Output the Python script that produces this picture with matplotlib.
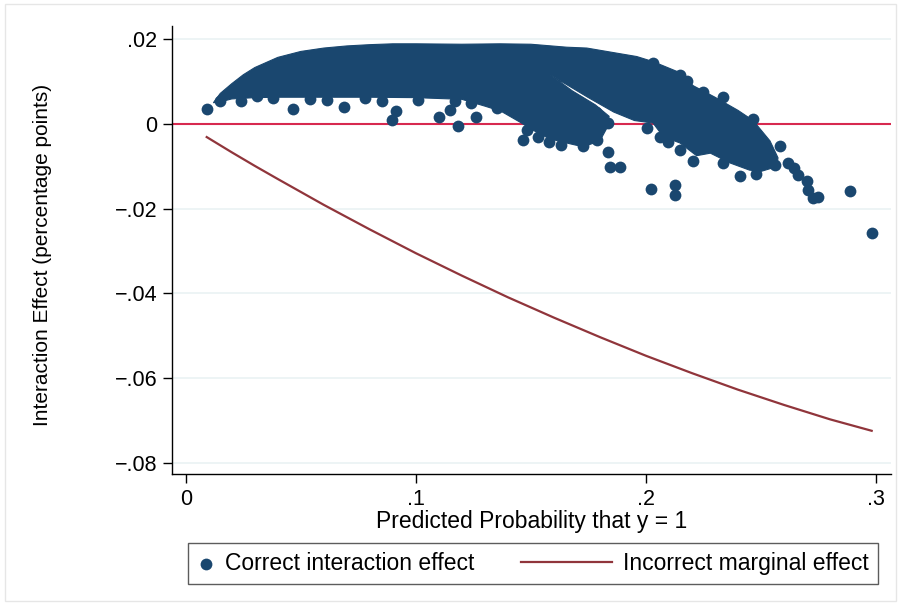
import matplotlib
matplotlib.use('Agg')
import matplotlib.pyplot as plt
from matplotlib.legend_handler import HandlerLine2D
from matplotlib.patches import Rectangle

plt.rcParams['font.family'] = ['Liberation Sans', 'DejaVu Sans']

# dense part of the cloud of interaction effects (outline)
cloud_x = [0.0120, 0.0150, 0.0200, 0.0250, 0.0300, 0.0400, 0.0500, 0.0600, 0.0700, 0.0800,
           0.0900, 0.1000, 0.1200, 0.1366, 0.1500, 0.1656, 0.1743, 0.1873, 0.1960, 0.2031,
           0.2134, 0.2206, 0.2300, 0.2400, 0.2466, 0.2539, 0.2574,
           0.2568, 0.2500, 0.2450, 0.2365, 0.2280, 0.2220, 0.2148, 0.2075, 0.2031, 0.1950,
           0.1860, 0.1750, 0.1584, 0.1680, 0.1780, 0.1840, 0.1830, 0.1800, 0.1727, 0.1655,
           0.1580, 0.1510, 0.1450, 0.1370, 0.1300, 0.1200, 0.1000, 0.0800, 0.0600, 0.0400,
           0.0300, 0.0200, 0.0150]
cloud_y = [0.0050, 0.0072, 0.0095, 0.0116, 0.0133, 0.0157, 0.0171, 0.0179, 0.0184, 0.0187,
           0.0189, 0.0189, 0.0188, 0.0189, 0.0188, 0.0181, 0.0179, 0.0167, 0.0159, 0.0147,
           0.0124, 0.0090, 0.0063, 0.0032, 0.0008, -0.0040, -0.0080,
           -0.0101, -0.0112, -0.0109, -0.0092, -0.0069, -0.0075, -0.0045, -0.0030, 0.0002, 0.0008,
           0.0028, 0.0062, 0.0116, 0.0078, 0.0045, 0.0018, -0.0010, -0.0040, -0.0054, -0.0045,
           -0.0035, -0.0015, 0.0005, 0.0030, 0.0042, 0.0058, 0.0062, 0.0063, 0.0063, 0.0063,
           0.0062, 0.0059, 0.0052]

# scattered points outside the dense part
pts_x = [0.0093, 0.0149, 0.0239, 0.0309, 0.0468, 0.0613, 0.0689, 0.0852, 0.0914, 0.0895,
         0.1102, 0.1149, 0.1170, 0.1182, 0.1262, 0.1352, 0.1465, 0.1482, 0.1532, 0.1580,
         0.1630, 0.1706, 0.1783, 0.1837, 0.1837, 0.1844, 0.1887, 0.1728, 0.1786, 0.1743,
         0.2003, 0.2061, 0.2097, 0.2146, 0.2205, 0.2148, 0.2177, 0.2032, 0.2021, 0.2126,
         0.2126, 0.2250, 0.2334, 0.2467, 0.2583, 0.2409, 0.2480, 0.2336, 0.2561, 0.2618,
         0.2644, 0.2662, 0.2699, 0.2705, 0.2728, 0.2748, 0.2885, 0.2981,
         0.0380, 0.0540, 0.0780, 0.1010, 0.1240]
pts_y = [0.0035, 0.0055, 0.0055, 0.0066, 0.0035, 0.0057, 0.0041, 0.0053, 0.0031, 0.0009,
         0.0016, 0.0033, 0.0053, -0.0005, 0.0016, 0.0037, -0.0039, -0.0014, -0.0030, -0.0042,
         -0.0050, 0.0053, 0.0027, 0.0002, -0.0066, -0.0102, -0.0102, -0.0053, -0.0038, -0.0030,
         -0.0010, -0.0032, -0.0043, -0.0061, -0.0088, 0.0115, 0.0102, 0.0143, -0.0154, -0.0144,
         -0.0168, 0.0076, 0.0064, 0.0012, -0.0052, -0.0123, -0.0118, -0.0092, -0.0098, -0.0092,
         -0.0104, -0.0121, -0.0134, -0.0156, -0.0175, -0.0172, -0.0158, -0.0258,
         0.0060, 0.0058, 0.0060, 0.0057, 0.0050]

# incorrect marginal effect curve
me_x = [0.0091, 0.0200, 0.0300, 0.0400, 0.0600, 0.0800, 0.1000, 0.1200, 0.1400, 0.1600,
        0.1800, 0.2000, 0.2200, 0.2400, 0.2600, 0.2800, 0.2981]
me_y = [-0.0031, -0.0067, -0.0099, -0.0130, -0.0191, -0.0249, -0.0305, -0.0358, -0.0409,
        -0.0457, -0.0503, -0.0547, -0.0588, -0.0627, -0.0663, -0.0697, -0.0724]

yticks = [-0.08, -0.06, -0.04, -0.02, 0, 0.02]
ylabels = ['\u2212.08', '\u2212.06', '\u2212.04', '\u2212.02', '0', '.02']
xticks = [0, 0.1, 0.2, 0.3]
xlabels = ['0', '.1', '.2', '.3']

navy = '#1a476f'
maroon = '#90353b'


class LongLine(HandlerLine2D):
    # legend line runs further to the left than the marker box
    def create_artists(self, legend, orig_handle, xdescent, ydescent, width, height, fontsize, trans):
        extra = 4.3 * width
        return super().create_artists(legend, orig_handle, xdescent + extra, ydescent,
                                      width + extra, height, fontsize, trans)


fig = plt.figure(figsize=(9.01, 6.05), dpi=100)
ax = fig.add_axes([0.1906, 0.2165, 0.7983, 0.7405])

ax.axhline(0, color='#d7294f', lw=1.5, zorder=1)
ax.fill(cloud_x, cloud_y, color=navy, lw=0.8, zorder=3)
sc = ax.scatter(pts_x, pts_y, s=72, color=navy, linewidths=0, zorder=3,
                label='Correct interaction effect')
ln, = ax.plot(me_x, me_y, color=maroon, lw=1.6, zorder=2, label='Incorrect marginal effect')

ax.set_xlim(-0.0061, 0.3065)
ax.set_ylim(-0.0826, 0.0231)
ax.set_xticks(xticks)
ax.set_xticklabels(xlabels)
ax.set_yticks(yticks)
ax.set_yticklabels(ylabels)
ax.yaxis.grid(True, color='#eaf2f3', lw=1.2)
ax.set_axisbelow(True)

for s in ['top', 'right']:
    ax.spines[s].set_visible(False)
for s in ['left', 'bottom']:
    ax.spines[s].set_color('black')
    ax.spines[s].set_linewidth(1.0)
ax.tick_params(direction='out', length=6.5, width=1, labelsize=15.5, pad=4, colors='black')

ax.set_xlabel('Predicted Probability that y = 1', fontsize=16.5)
ax.set_ylabel('Interaction Effect (percentage points)', fontsize=15)
ax.xaxis.set_label_coords(0.5009, -0.0804)
ax.yaxis.set_label_coords(-0.1668, 0.49)

leg = fig.legend(handles=[sc, ln], loc='center',
                 bbox_to_anchor=(188 / 901, 1 - 583 / 605, 690 / 901, 39 / 605),
                 bbox_transform=fig.transFigure, mode='expand', ncol=2, borderaxespad=0,
                 frameon=True, fancybox=False, edgecolor='#333333', fontsize=16.5,
                 handlelength=0.75, handletextpad=0.47, borderpad=0.4, scatterpoints=1,
                 handler_map={ln: LongLine()})
leg.get_frame().set_linewidth(1.0)

fig.patches.append(Rectangle((0.005, 0.006), 0.99, 0.988, transform=fig.transFigure,
                             fill=False, edgecolor='#e6e6e6', lw=1))

fig.savefig('out.png', dpi=100)
